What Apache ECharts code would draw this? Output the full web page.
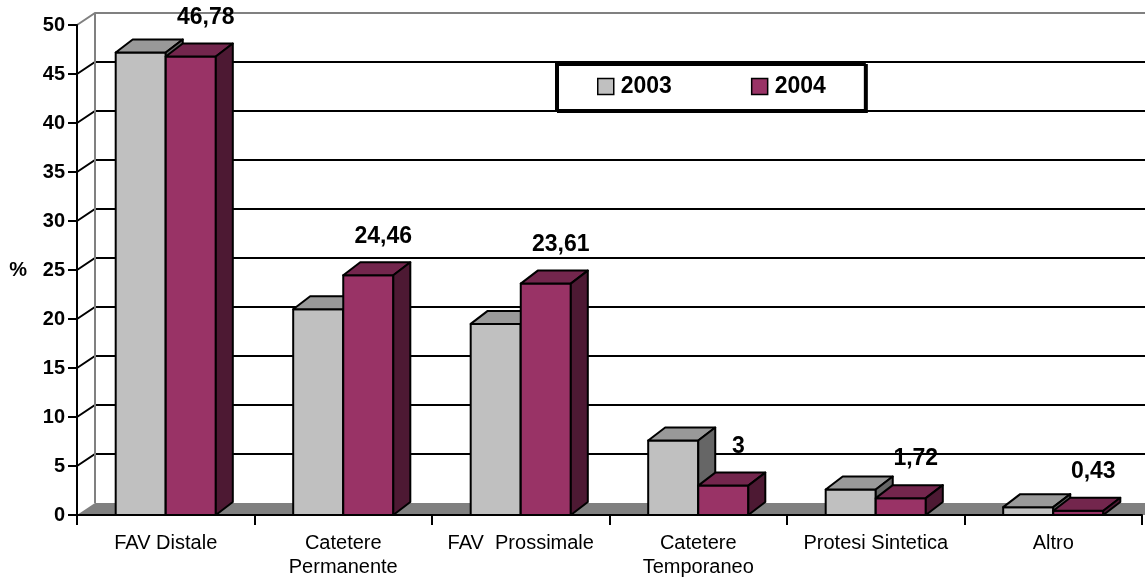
<!DOCTYPE html>
<html>
<head>
<meta charset="utf-8">
<script src="https://cdn.jsdelivr.net/npm/echarts@6/dist/echarts.min.js"></script>
<style>
  html, body { margin: 0; padding: 0; background: #fff; }
  #chart { width: 1145px; height: 579px; }
</style>
</head>
<body>
<div id="chart"></div>
<script>
const categories = ['FAV Distale', 'Catetere\nPermanente', 'FAV  Prossimale', 'Catetere\nTemporaneo', 'Protesi Sintetica', 'Altro'];
const values2003 = [47.2, 21.0, 19.5, 7.6, 2.6, 0.8];
const values2004 = [46.78, 24.46, 23.61, 3, 1.72, 0.43];
const yTicks = [0, 5, 10, 15, 20, 25, 30, 35, 40, 45, 50];

const FONT = '"Liberation Sans", Arial, sans-serif';
// depth of the 3d look
const BAR_DX = 17, BAR_DY = -13;
const WALL_DX = 18, WALL_DY = -12;
const BAR_RATIO = 0.282;

const chart = echarts.init(document.getElementById('chart'));

function fmt(v) {
    return String(v).replace('.', ',');
}

// back wall gridlines, left wall and floor
function renderWall(params, api) {
    const v = api.value(1);
    const cs = params.coordSys;
    const x0 = cs.x;
    const xr = cs.x + cs.width + WALL_DX + 40;
    const y = api.coord([0, v])[1];
    const yTop = api.coord([0, yTicks[yTicks.length - 1]])[1];
    const yBottom = api.coord([0, 0])[1];

    if (v === 0) {
        return {
            type: 'polygon',
            shape: { points: [[x0, y], [x0 + WALL_DX, y + WALL_DY], [xr, y + WALL_DY], [xr, y]] },
            style: { fill: '#808080', stroke: null }
        };
    }
    if (v === yTicks[yTicks.length - 1]) {
        return {
            type: 'group',
            children: [
                {
                    type: 'polyline',
                    shape: { points: [[x0, y], [x0 + WALL_DX, y + WALL_DY], [xr, y + WALL_DY]] },
                    style: { stroke: '#808080', lineWidth: 2, fill: null }
                },
                {
                    type: 'line',
                    shape: { x1: x0 + WALL_DX, y1: yTop + WALL_DY, x2: x0 + WALL_DX, y2: yBottom + WALL_DY },
                    style: { stroke: '#808080', lineWidth: 2 }
                }
            ]
        };
    }
    return {
        type: 'polyline',
        shape: { points: [[x0, y], [x0 + WALL_DX, y + WALL_DY], [xr, y + WALL_DY]] },
        style: { stroke: '#000', lineWidth: 2, fill: null }
    };
}

function bar3d(colors, left, withLabel) {
    return function (params, api) {
        const i = api.value(0);
        const v = api.value(1);
        const base = api.coord([i, 0]);
        const top = api.coord([i, v]);
        const bw = api.size([1, 0])[0] * BAR_RATIO;
        const x0 = left ? base[0] - bw : base[0];
        const x1 = x0 + bw;
        const yb = base[1];
        const yt = top[1];
        const line = { stroke: '#000', lineWidth: 2, lineJoin: 'round' };

        const children = [
            {
                type: 'polygon',
                shape: { points: [[x0, yb], [x1, yb], [x1, yt], [x0, yt]] },
                style: Object.assign({ fill: colors[0] }, line)
            },
            {
                type: 'polygon',
                shape: { points: [[x0, yt], [x0 + BAR_DX, yt + BAR_DY], [x1 + BAR_DX, yt + BAR_DY], [x1, yt]] },
                style: Object.assign({ fill: colors[1] }, line)
            },
            {
                type: 'polygon',
                shape: { points: [[x1, yt], [x1 + BAR_DX, yt + BAR_DY], [x1 + BAR_DX, yb + BAR_DY], [x1, yb]] },
                style: Object.assign({ fill: colors[2] }, line)
            }
        ];
        if (withLabel) {
            children.push({
                type: 'text',
                z2: 100,
                style: {
                    text: fmt(v),
                    x: (x0 + x1) / 2 + 15,
                    y: yt - 39,
                    align: 'center',
                    verticalAlign: 'middle',
                    fontFamily: FONT,
                    fontWeight: 'bold',
                    fontSize: 23,
                    fill: '#000'
                }
            });
        }
        return { type: 'group', children: children };
    };
}

const option = {
    animation: false,
    backgroundColor: '#fff',
    grid: { left: 77, right: 3, top: 25, bottom: 64, containLabel: false },
    legend: {
        left: 556,
        top: 63,
        orient: 'horizontal',
        padding: [12, 39, 12, 41],
        itemGap: 79,
        itemWidth: 16,
        itemHeight: 16,
        icon: 'rect',
        backgroundColor: '#fff',
        borderColor: '#000',
        borderWidth: 2,
        shadowColor: '#000',
        shadowOffsetX: 2,
        shadowOffsetY: 2,
        shadowBlur: 0,
        textStyle: { fontFamily: FONT, fontWeight: 'bold', fontSize: 23, color: '#000', padding: [0, 0, 0, 2] },
        data: [
            { name: '2003', itemStyle: { color: '#C0C0C0', borderColor: '#000', borderWidth: 1.5 } },
            { name: '2004', itemStyle: { color: '#993366', borderColor: '#000', borderWidth: 1.5 } }
        ]
    },
    xAxis: {
        type: 'category',
        data: categories,
        z: 3,
        axisLine: { lineStyle: { color: '#000', width: 2 } },
        axisTick: { show: true, length: 10, lineStyle: { color: '#000', width: 2 } },
        axisLabel: {
            interval: 0,
            margin: 16,
            fontFamily: FONT,
            fontSize: 20,
            lineHeight: 24,
            color: '#000'
        },
        splitLine: { show: false }
    },
    yAxis: {
        type: 'value',
        min: 0,
        max: 50,
        interval: 5,
        z: 3,
        name: '%',
        nameLocation: 'middle',
        nameRotate: 0,
        nameGap: 50,
        nameTextStyle: { fontFamily: FONT, fontWeight: 'bold', fontSize: 20, color: '#000' },
        axisLine: { show: true, lineStyle: { color: '#000', width: 2 } },
        axisTick: { show: true, length: 9, lineStyle: { color: '#000', width: 2 } },
        axisLabel: { margin: 12, fontFamily: FONT, fontWeight: 'bold', fontSize: 20, color: '#000' },
        splitLine: { show: false }
    },
    series: [
        {
            name: 'wall',
            type: 'custom',
            z: 1,
            silent: true,
            renderItem: renderWall,
            encode: { x: 0, y: 1 },
            data: yTicks.map(v => [0, v])
        },
        {
            name: '2003',
            type: 'custom',
            z: 4,
            itemStyle: { color: '#C0C0C0' },
            renderItem: bar3d(['#C0C0C0', '#999999', '#666666'], true, false),
            encode: { x: 0, y: 1 },
            data: values2003.map((v, i) => [i, v])
        },
        {
            name: '2004',
            type: 'custom',
            z: 5,
            itemStyle: { color: '#993366' },
            renderItem: bar3d(['#993366', '#73264D', '#4D1933'], false, true),
            encode: { x: 0, y: 1 },
            data: values2004.map((v, i) => [i, v])
        }
    ]
};

chart.setOption(option);
</script>
</body>
</html>
